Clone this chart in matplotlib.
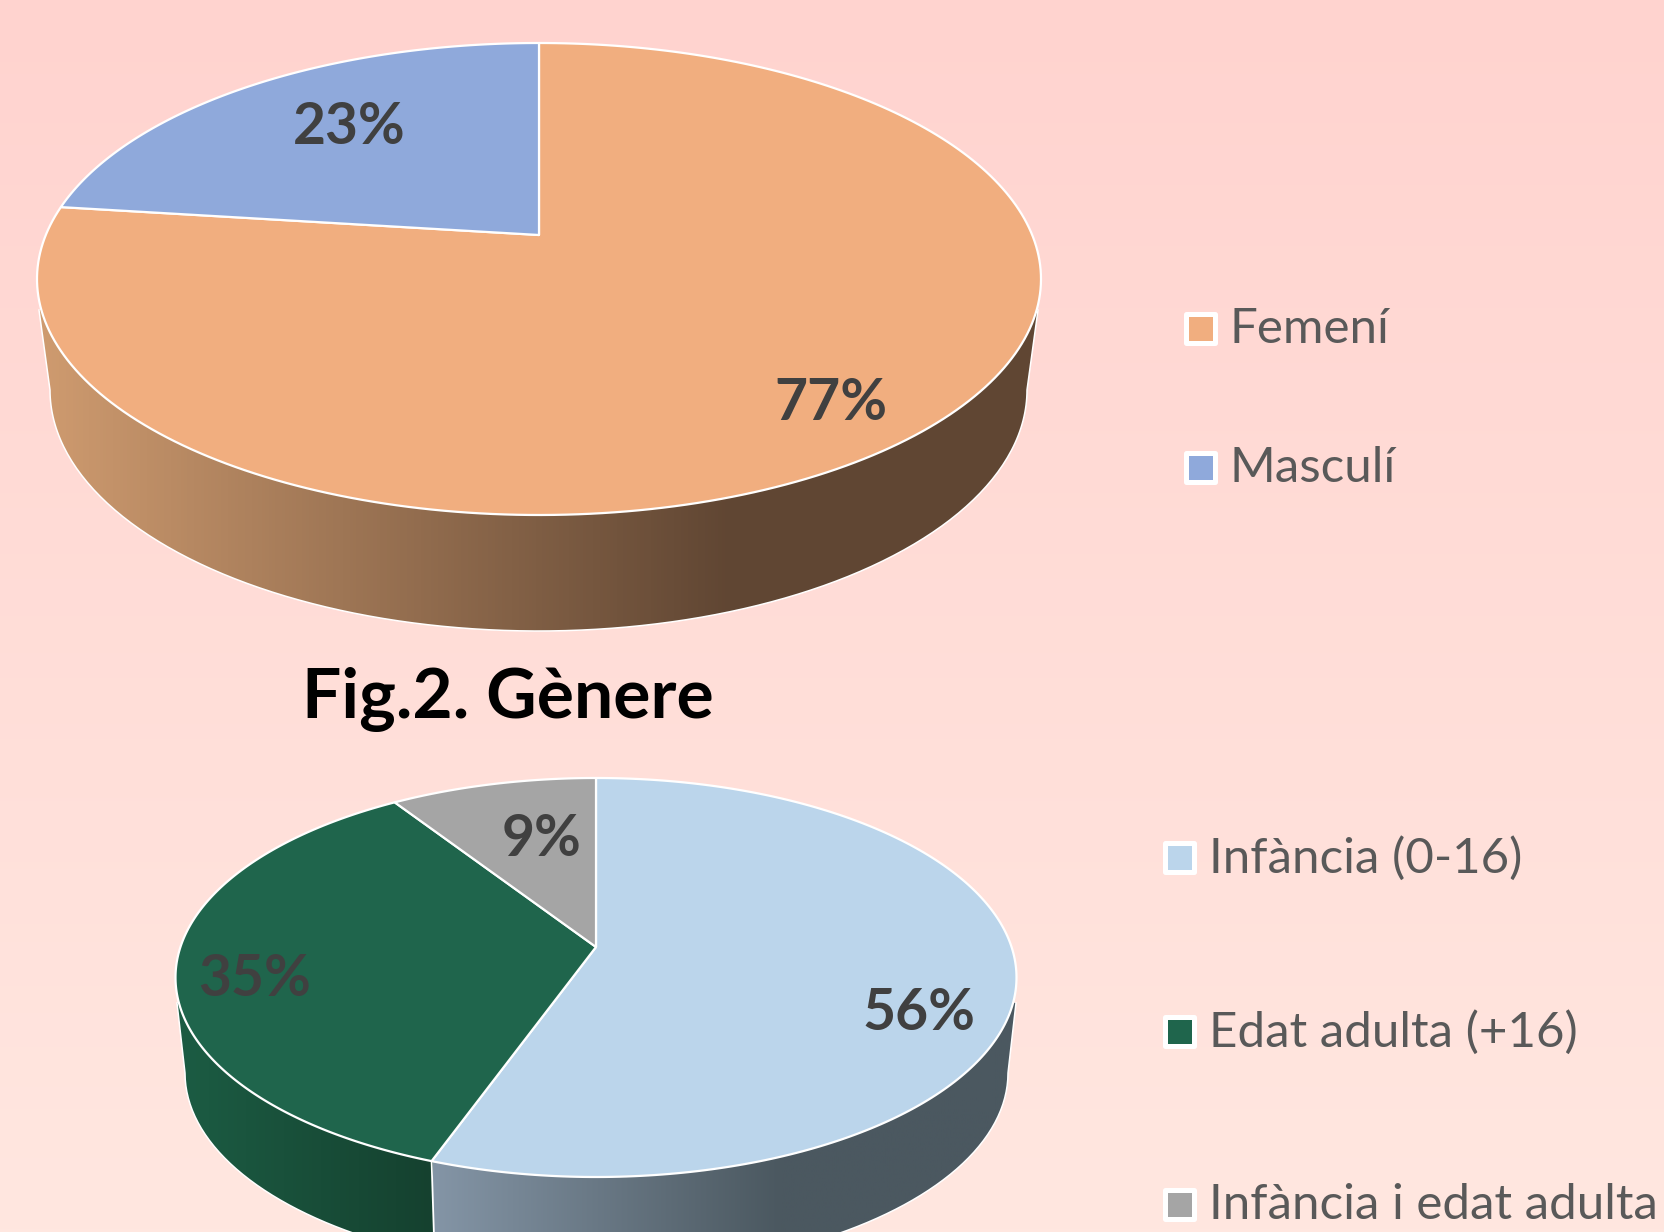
import numpy as np
import matplotlib
matplotlib.use("Agg")
import matplotlib.pyplot as plt
from matplotlib.colors import to_rgb
from matplotlib.patches import Polygon, Rectangle

plt.rcParams["font.family"] = ["Lato", "DejaVu Sans"]

gender_labels = ["Femení", "Masculí"]
gender_values = [77, 23]
gender_colors = ["#F1AE7F", "#8FA9DB"]

age_labels = ["Infància (0-16)", "Edat adulta (+16)", "Infància i edat adulta"]
age_values = [55.5, 35.3, 9.2]
age_colors = ["#BBD5EB", "#1F654C", "#A5A5A5"]

title = "Fig.2. Gènere"

TEXT_DARK = "#404040"
TEXT_LEGEND = "#595959"


def project(angle, pie):
    # angle clockwise from 12 o'clock, perspective circle -> pixels
    up = pie["apex"][1] - pie["top"]
    down = pie["bottom"] - pie["apex"][1]
    c = (down - up) / (down + up)
    a = up * (1 + c)
    k = pie["half"] * np.sqrt(1 - c ** 2)
    u, v = np.sin(angle), np.cos(angle)
    return pie["apex"][0] + k * u / (1 + c * v), pie["apex"][1] - a * v / (1 + c * v)


def gradient(ax, x0, x1, y0, y1, c0, c1, flat_from, clip):
    xs = np.linspace(x0, x1, 300)
    t = np.clip((xs - x0) / (flat_from - x0), 0, 1)[None, :, None]
    img = np.array(to_rgb(c0))[None, None, :] * (1 - t) + np.array(to_rgb(c1))[None, None, :] * t
    im = ax.imshow(img, extent=[x0, x1, y1, y0], aspect="auto", zorder=2)
    im.set_clip_path(clip)


def draw_pie(ax, values, colors, pie):
    # wall outline: lower rim plus the tangent points on the top rim
    cx, cy = pie["low_center"]
    w, h = pie["low_radii"]
    th = np.linspace(0, np.pi, 200)
    lx = cx + w * np.cos(th)
    ly = cy + h * np.sin(th)
    right, left = pie["tangents"]
    pts = np.vstack([right, np.column_stack([lx, ly]), left, pie["apex"]])
    clip = Polygon(pts, closed=True, transform=ax.transData, fc="none", ec="none")
    ax.add_patch(clip)

    fracs = np.cumsum([0] + list(values)) / sum(values) * 2 * np.pi

    # wedge edges that come round the front of the pie split the wall
    seams = []
    for f in fracs[1:-1]:
        sx, sy = project(f, pie)
        if sy > pie["apex"][1] + pie["half"] * 0.2 and abs(sx - cx) < w:
            seams.append((sx, sy))
    edges = [cx - pie["half"] - 5] + [s[0] + 1.5 for s in seams] + [cx + pie["half"] + 5]
    for i, seg in enumerate(pie["walls"]):
        flat = seg[2] if seg[2] else edges[i + 1]
        gradient(ax, edges[i], edges[i + 1], pie["apex"][1], cy + h + 5, seg[0], seg[1], flat, clip)
    ax.plot(np.r_[right[0], lx, left[0]], np.r_[right[1], ly, left[1]], color="white", lw=1.1, zorder=3)
    for sx, sy in seams:
        ey = cy + h * np.sqrt(1 - ((sx - cx) / w) ** 2)
        ax.plot([sx, sx + 3], [sy, ey], color="white", lw=1.3, zorder=3)

    for i, col in enumerate(colors):
        th = np.linspace(fracs[i], fracs[i + 1], 240)
        x, y = project(th, pie)
        ax.add_patch(Polygon(np.column_stack([np.r_[pie["apex"][0], x], np.r_[pie["apex"][1], y]]),
                             closed=True, fc=col, ec="white", lw=1.6, joinstyle="round", zorder=4))


def draw_legend(ax, labels, colors, x, ys):
    for lab, col, y in zip(labels, colors, ys):
        ax.add_patch(Rectangle((x - 2.5, y - 14.5), 29, 29, fc=col, ec="white", lw=3.6, joinstyle="round", zorder=5))
        ax.text(x + 42, y + 1, lab, color=TEXT_LEGEND, fontsize=35.5, va="center", ha="left", zorder=6)


fig = plt.figure(figsize=(16.64, 12.32), dpi=100)
ax = fig.add_axes([0, 0, 1, 1])

bg = np.linspace(0, 1, 400)[:, None, None]
bg_img = np.array(to_rgb("#FFD3CF"))[None, None, :] * (1 - bg) + np.array(to_rgb("#FFE7E0"))[None, None, :] * bg
ax.imshow(bg_img, extent=[0, 1664, 1232, 0], aspect="auto", zorder=0)

draw_pie(ax, gender_values, gender_colors, {
    "apex": (539, 235), "top": 43, "bottom": 515, "half": 502,
    "low_center": (538.5, 390), "low_radii": (488.5, 241),
    "tangents": ((1038, 310), (39, 310)),
    "walls": [("#D09C70", "#604633", 730)],
})
draw_pie(ax, age_values, age_colors, {
    "apex": (596, 947), "top": 778, "bottom": 1177, "half": 420.5,
    "low_center": (596.5, 1073), "low_radii": (411.5, 198.5),
    "tangents": ((1016, 1003), (177, 1003)),
    "walls": [("#1C5D44", "#15412F", None), ("#8495A6", "#4B5860", 780)],
})

label_xy = [(831, 403), (349, 127)]
for v, (x, y) in zip(gender_values, label_xy):
    ax.text(x, y, f"{round(v)}%", color=TEXT_DARK, fontsize=41, fontweight="bold", ha="center", va="center", zorder=7)
label_xy = [(919, 1014), (255, 980), (542, 839)]
for v, (x, y) in zip(age_values, label_xy):
    ax.text(x, y, f"{round(v)}%", color=TEXT_DARK, fontsize=41, fontweight="bold", ha="center", va="center", zorder=7)

ax.text(508, 699, title, color="black", fontsize=50, fontweight="bold", ha="center", va="center", zorder=7)

draw_legend(ax, gender_labels, gender_colors, 1188, [328, 467])
draw_legend(ax, age_labels, age_colors, 1167, [857, 1031, 1204])

ax.set_xlim(0, 1664)
ax.set_ylim(1232, 0)
ax.axis("off")
fig.savefig("out.png", dpi=100)
plt.close(fig)
